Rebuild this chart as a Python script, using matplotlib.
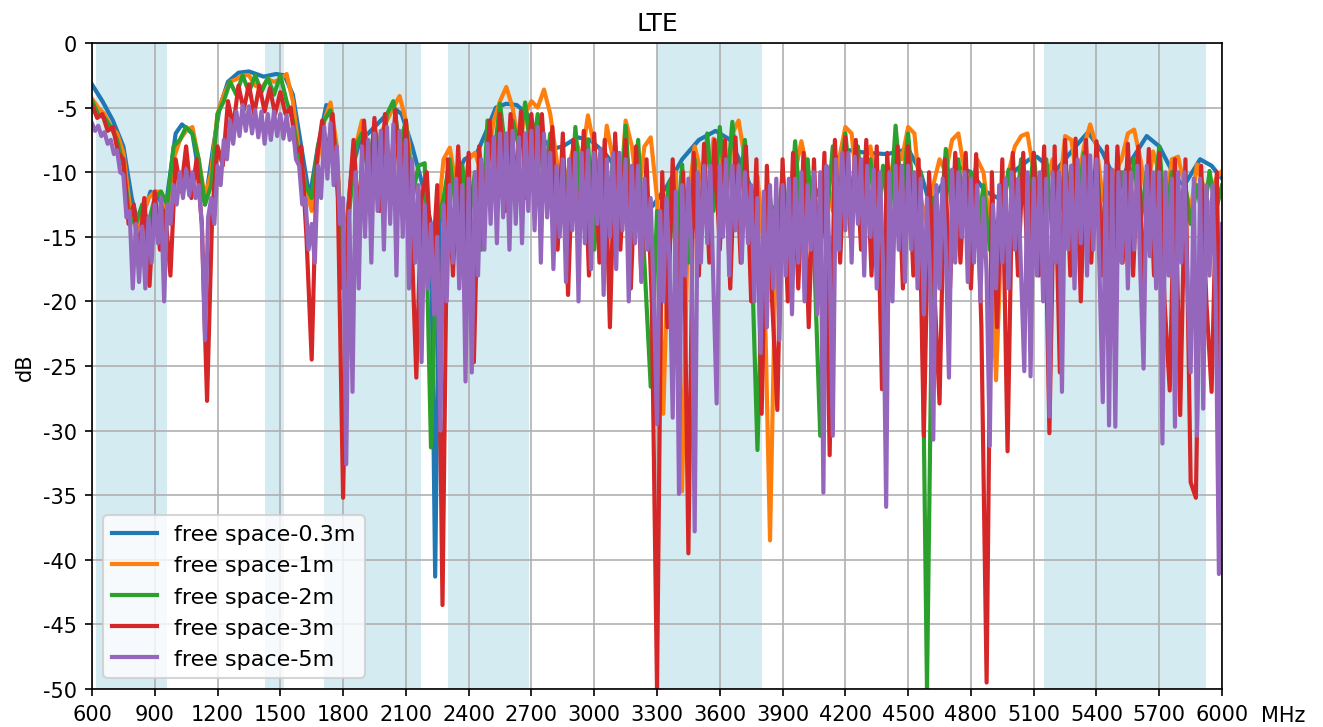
import numpy as np
import matplotlib
matplotlib.use("Agg")
import matplotlib.pyplot as plt

plt.rcParams['axes.unicode_minus'] = False

# LTE bands shaded in the background (MHz)
bands = [(617, 960), (1427, 1518), (1710, 2170), (2300, 2690), (3300, 3800), (5150, 5925)]

labels = ["free space-0.3m", "free space-1m", "free space-2m", "free space-3m", "free space-5m"]
colors = ["#1f77b4", "#ff7f0e", "#2ca02c", "#d62728", "#9467bd"]

# free space-0.3m (slow ripple, read at irregular frequencies)
blue_f = [600, 650, 700, 750, 790, 820, 860, 880, 920, 950,
          1000, 1030, 1080, 1110, 1140, 1180, 1210, 1250, 1300, 1350,
          1420, 1480, 1520, 1560, 1600, 1640, 1680, 1720, 1740, 1770,
          1800, 1840, 1880, 1920, 1980, 2040, 2080, 2130, 2180, 2220,
          2240, 2260, 2320, 2380, 2440, 2480, 2530, 2580, 2630, 2680,
          2730, 2800, 2850, 2920, 2980, 3050, 3120, 3200, 3280, 3350,
          3420, 3500, 3580, 3650, 3720, 3800, 3880, 3960, 4060, 4150,
          4220, 4300, 4400, 4500, 4560, 4605, 4660, 4735, 4800, 4870,
          4930, 5000, 5080, 5115, 5200, 5300, 5360, 5430, 5500, 5570,
          5640, 5700, 5780, 5820, 5895, 5950, 6000]
blue_db = [-3.2, -4.5, -6.0, -8.0, -12.0, -14.0, -12.5, -11.5, -12.0, -13.0,
           -7.0, -6.3, -7.0, -10.0, -12.5, -8.0, -5.0, -3.0, -2.3, -2.2,
           -2.6, -2.4, -2.5, -4.0, -8.0, -12.0, -8.0, -4.8, -5.0, -9.0,
           -17.0, -10.0, -7.5, -7.0, -6.0, -5.0, -5.5, -8.0, -11.0, -14.0,
           -41.3, -14.0, -11.0, -9.0, -8.5, -7.0, -5.0, -4.7, -4.8, -5.5,
           -7.0, -8.2, -8.0, -7.3, -7.5, -8.5, -10.0, -12.0, -12.6, -11.0,
           -9.0, -7.5, -6.8, -7.5, -10.0, -13.4, -12.5, -12.0, -11.8, -9.0,
           -8.3, -8.5, -8.6, -8.2, -10.0, -12.6, -11.0, -9.5, -10.0, -11.5,
           -12.0, -10.0, -9.0, -8.8, -10.0, -8.0, -6.9, -8.5, -11.0, -9.0,
           -7.2, -8.0, -10.5, -11.0, -9.0, -9.5, -10.5]

# free space-1m, every 30 MHz from 600 to 6000
orange_db = [
    -4.3, -5.0, -5.5, -6.5, -7.0, -8.5, -12.5, -14.5, -13.5, -12.0,
    -11.5, -11.5, -13.0, -9.0, -7.5, -6.8, -6.5, -9.0, -12.0, -10.0,
    -5.5, -4.0, -3.0, -2.8, -2.5, -2.5, -3.3, -3.5, -2.8, -3.0,
    -2.8, -2.4, -4.5, -8.5, -11.0, -13.0, -9.0, -6.0, -4.6, -8.0,
    -18.0, -12.0, -8.0, -6.0, -8.0, -10.0, -7.0, -6.0, -5.0, -4.1,
    -6.0, -10.0, -12.0, -11.0, -15.0, -14.0, -9.0, -8.1, -11.0, -13.0,
    -9.0, -8.5, -10.0, -9.0, -6.0, -4.5, -3.4, -5.0, -8.0, -5.5,
    -4.5, -5.0, -3.6, -5.5, -9.0, -12.0, -9.5, -7.4, -9.0, -5.6,
    -8.0, -12.0, -6.4, -9.0, -13.0, -6.0, -8.0, -12.0, -8.0, -7.3,
    -12.0, -28.7, -12.0, -10.0, -34.7, -12.0, -8.0, -10.0, -13.0, -7.4,
    -9.0, -13.0, -7.0, -6.0, -9.0, -14.0, -10.3, -16.0, -38.5, -14.0,
    -12.0, -15.0, -10.0, -7.6, -10.0, -15.0, -12.0, -10.0, -13.0, -9.0,
    -6.5, -7.0, -12.0, -9.0, -8.0, -12.0, -26.6, -11.0, -8.0, -9.0,
    -6.5, -7.0, -12.0, -14.0, -11.0, -9.0, -10.0, -7.5, -7.0, -10.0,
    -12.0, -9.0, -10.0, -14.0, -26.1, -13.0, -10.0, -8.0, -7.2, -7.0,
    -10.0, -12.0, -11.0, -9.0, -12.0, -7.2, -7.5, -11.0, -8.0, -6.3,
    -8.0, -12.0, -13.0, -10.0, -9.0, -7.0, -6.7, -9.0, -12.0, -8.4,
    -10.0, -13.0, -9.0, -8.8, -11.0, -13.0, -9.4, -11.0, -13.0, -10.5,
    -9.9]

# free space-2m, every 30 MHz
green_db = [
    -4.5, -5.5, -5.8, -6.5, -7.5, -9.5, -13.5, -14.0, -12.5, -14.0,
    -12.0, -11.5, -12.5, -8.0, -7.5, -6.5, -7.0, -9.0, -12.5, -11.0,
    -5.5, -4.5, -3.0, -4.0, -2.5, -3.8, -2.5, -3.8, -2.7, -4.0,
    -2.5, -4.5, -6.0, -9.0, -11.0, -12.0, -8.0, -6.0, -5.2, -9.0,
    -19.0, -13.0, -8.0, -7.0, -10.0, -6.5, -9.0, -5.5, -4.5, -8.0,
    -6.0, -12.0, -9.5, -9.3, -31.3, -14.0, -12.0, -9.0, -13.0, -9.5,
    -14.0, -10.0, -16.0, -6.0, -9.0, -4.7, -9.0, -6.0, -8.0, -4.6,
    -9.0, -5.5, -11.0, -7.0, -14.0, -8.5, -15.0, -6.5, -13.0, -7.5,
    -16.0, -8.5, -14.0, -9.0, -15.0, -6.4, -14.0, -7.5, -17.0, -26.6,
    -13.0, -14.0, -10.7, -16.0, -9.4, -17.0, -9.0, -15.0, -7.0, -13.0,
    -6.5, -12.0, -6.1, -12.0, -7.5, -15.0, -31.5, -14.0, -12.0, -16.0,
    -9.9, -15.0, -7.6, -14.0, -9.0, -16.0, -30.4, -14.0, -8.0, -12.0,
    -7.0, -12.0, -8.0, -14.0, -9.0, -15.0, -9.5, -14.0, -6.4, -12.0,
    -7.0, -13.0, -10.0, -50.0, -12.0, -15.0, -8.2, -13.0, -9.0, -14.0,
    -10.0, -15.0, -11.0, -16.0, -14.0, -13.0, -9.8, -14.0, -9.0, -13.0,
    -8.5, -14.0, -9.0, -15.0, -10.0, -14.0, -9.5, -13.0, -8.5, -14.0,
    -9.4, -15.0, -10.0, -14.0, -10.0, -13.0, -9.0, -14.0, -10.0, -13.0,
    -8.0, -14.0, -10.0, -15.0, -10.5, -14.0, -11.0, -14.0, -9.9, -13.0,
    -11.0]

# free space-3m, every 25 MHz
red_db = [
    -4.8, -5.8, -5.5, -6.8, -6.5, -8.5, -9.0, -14.0, -12.5, -16.5, -12.0, -18.8,
    -11.5, -16.0, -13.0, -18.0, -9.0, -11.5, -8.0, -12.0, -9.0, -14.0, -27.7, -13.0,
    -8.0, -9.5, -4.5, -6.5, -3.3, -5.2, -3.2, -5.5, -3.3, -5.3, -3.5, -5.5,
    -3.8, -5.5, -5.0, -8.5, -8.0, -15.0, -24.5, -9.0, -6.0, -8.5, -5.5, -12.0,
    -35.2, -13.0, -7.5, -14.0, -6.0, -12.0, -5.8, -13.0, -5.5, -11.0, -5.2, -12.0,
    -6.0, -14.0, -25.9, -12.0, -10.0, -18.0, -11.0, -43.5, -9.0, -18.0, -8.0, -17.0,
    -8.5, -24.7, -8.0, -13.0, -6.0, -12.0, -5.5, -13.0, -5.5, -11.0, -5.3, -12.0,
    -5.5, -11.0, -5.5, -12.0, -6.5, -16.0, -7.0, -19.5, -7.5, -15.0, -6.8, -18.0,
    -7.0, -17.0, -7.5, -22.0, -7.0, -16.0, -7.5, -19.0, -8.0, -18.0, -9.0, -20.0,
    -50.0, -10.0, -22.0, -9.0, -20.0, -10.0, -39.5, -8.5, -18.0, -7.8, -17.0, -7.5,
    -16.0, -7.5, -19.0, -7.3, -17.0, -8.0, -20.0, -9.0, -28.7, -9.5, -20.0, -28.4,
    -9.0, -20.0, -8.5, -19.0, -8.5, -22.0, -9.0, -20.0, -8.5, -31.9, -7.5, -17.0,
    -7.3, -15.0, -7.5, -16.0, -7.5, -18.0, -8.0, -26.8, -8.5, -17.0, -8.0, -19.0,
    -8.0, -18.0, -9.0, -30.4, -10.0, -19.0, -27.9, -9.0, -19.0, -8.5, -17.0, -8.5,
    -19.0, -8.6, -22.0, -49.5, -10.0, -22.0, -9.0, -31.6, -8.5, -18.0, -8.5, -19.0,
    -8.5, -18.0, -8.0, -30.2, -8.0, -25.5, -7.5, -18.0, -7.4, -20.0, -7.5, -17.0,
    -7.6, -18.0, -8.0, -20.0, -8.0, -17.0, -7.8, -18.0, -8.0, -19.0, -8.2, -18.0,
    -8.5, -20.0, -26.9, -9.0, -28.8, -9.0, -34.0, -35.2, -9.5, -20.0, -27.0, -10.0,
    -34.3]

# free space-5m, every 15 MHz (one row = 300 MHz)
purple_db = [
    -6.2, -6.8, -6.4, -7.2, -6.9, -7.8, -7.5, -8.6, -8.3, -10.0, -10.2, -13.5, -13.0, -19.0, -14.0, -18.5, -14.2, -19.0, -13.5, -17.0,
    -12.5, -15.5, -12.0, -20.0, -12.5, -14.0, -11.0, -12.5, -10.0, -12.0, -9.8, -11.8, -10.0, -12.0, -11.0, -14.0, -23.0, -13.5, -12.0, -14.0,
    -9.5, -11.0, -7.5, -9.0, -6.0, -7.8, -5.3, -7.2, -4.8, -6.8, -4.9, -7.0, -5.2, -7.3, -5.3, -7.8, -5.5, -7.5, -5.3, -7.2,
    -5.5, -7.4, -5.6, -7.5, -6.5, -9.0, -9.5, -12.5, -12.0, -16.0, -14.0, -17.0, -9.5, -12.0, -6.5, -10.5, -6.2, -11.0, -8.0, -14.0,
    -12.0, -32.6, -13.0, -27.0, -10.0, -19.0, -8.0, -15.0, -7.5, -17.0, -7.0, -13.0, -6.8, -16.0, -6.5, -14.0, -6.3, -18.0, -6.8, -15.0,
    -7.5, -19.0, -9.0, -17.0, -11.0, -24.7, -12.5, -19.0, -14.0, -21.0, -15.0, -30.0, -12.5, -20.0, -11.0, -17.0, -10.5, -19.0, -11.0, -26.2,
    -10.5, -25.5, -10.0, -18.0, -9.0, -16.0, -7.8, -14.0, -7.3, -15.5, -7.0, -13.5, -7.0, -16.0, -6.8, -14.0, -7.3, -15.5, -7.0, -13.0,
    -6.8, -14.5, -6.5, -17.0, -7.0, -13.5, -8.5, -17.5, -9.5, -15.0, -9.0, -18.5, -9.0, -14.5, -8.5, -20.0, -8.5, -15.5, -8.3, -17.5,
    -8.5, -14.0, -8.2, -19.5, -9.0, -15.0, -8.5, -17.5, -8.5, -14.5, -9.0, -20.0, -9.5, -15.5, -9.5, -18.5, -10.5, -16.0, -12.0, -20.0,
    -29.5, -13.0, -20.0, -12.0, -17.0, -29.0, -11.5, -34.9, -11.0, -18.0, -10.5, -16.0, -37.8, -10.0, -17.0, -9.5, -15.5, -9.5, -19.0, -27.9,
    -9.5, -15.0, -9.0, -18.0, -9.5, -14.5, -9.5, -17.0, -10.0, -15.5, -11.0, -20.0, -12.0, -24.0, -11.5, -22.0, -11.0, -19.0, -10.5, -23.0,
    -11.0, -18.0, -10.5, -21.0, -10.5, -17.0, -10.0, -20.0, -11.0, -16.0, -10.0, -21.0, -10.0, -34.8, -9.5, -17.0, -30.4, -9.0, -16.0, -8.5,
    -14.5, -8.5, -17.0, -8.8, -14.0, -9.0, -18.0, -9.5, -15.0, -9.8, -19.0, -10.0, -17.0, -35.9, -10.0, -20.0, -9.5, -16.0, -9.5, -18.5,
    -9.5, -16.0, -10.0, -19.0, -10.5, -21.0, -12.0, -18.0, -30.7, -11.0, -19.0, -10.5, -16.0, -25.9, -9.8, -17.0, -10.0, -15.0, -10.0, -18.5,
    -10.5, -17.0, -11.0, -20.0, -12.0, -18.0, -31.2, -12.5, -19.0, -11.0, -17.0, -10.5, -19.0, -10.0, -16.0, -10.5, -18.0, -25.4, -10.0, -25.8,
    -10.5, -18.0, -10.0, -20.0, -10.5, -28.9, -10.0, -17.0, -10.0, -27.0, -9.5, -16.0, -9.5, -19.0, -9.0, -15.5, -8.8, -18.0, -8.7, -16.0,
    -9.0, -18.0, -27.8, -9.5, -29.6, -9.8, -29.7, -10.0, -17.0, -10.0, -19.0, -10.0, -16.0, -9.5, -18.0, -25.2, -9.5, -16.5, -10.0, -19.0,
    -10.0, -31.0, -10.0, -18.0, -10.5, -29.7, -10.0, -17.0, -10.0, -19.0, -25.5, -10.5, -30.4, -10.5, -28.3, -11.0, -18.0, -11.0, -20.0, -41.1,
    -14.0]

orange_f = np.arange(600, 6001, 30)
green_f = np.arange(600, 6001, 30)
red_f = np.arange(600, 6001, 25)
purple_f = np.arange(600, 6001, 15)

series = [(blue_f, blue_db), (orange_f, orange_db), (green_f, green_db),
          (red_f, red_db), (purple_f, purple_db)]
for f, v in series:
    assert len(f) == len(v), (len(f), len(v))

fig = plt.figure(figsize=(8.82, 4.853), dpi=150)
ax = fig.add_axes([0.0695, 0.0522, 0.8542, 0.8874])

# bandes LTE en fond
for lo, hi in bands:
    ax.axvspan(lo, hi, color='lightblue', alpha=0.5, lw=0)

for (f, v), lab, c in zip(series, labels, colors):
    ax.plot(f, v, color=c, lw=2.0, label=lab)

ax.set_xlim(600, 6000)
ax.set_ylim(-50, 0)
ax.set_xticks(np.arange(600, 6001, 300))
ax.set_yticks(np.arange(-50, 1, 5))
ax.tick_params(labelsize=10)
ax.grid(True)
ax.set_title("LTE", fontsize=12)
ax.set_ylabel("dB", fontsize=10)
ax.set_xlabel("MHz", fontsize=10)
ax.xaxis.set_label_coords(1.054, -0.0248)
ax.xaxis.label.set_va('top')
ax.legend(loc='lower left', fontsize=10.7)

fig.savefig("out.png", dpi=150)
